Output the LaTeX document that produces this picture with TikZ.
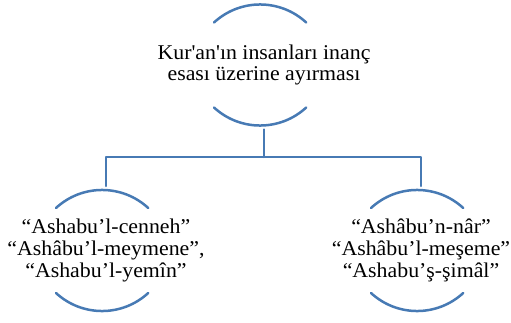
\documentclass[tikz,border=0pt]{standalone}
\usepackage{fontspec}
\setmainfont{Liberation Serif}[Ligatures=TeXOff,FakeStretch=1.04]
\usetikzlibrary{calc,positioning}
\definecolor{hline}{RGB}{71,122,180}

\begin{document}
\begin{tikzpicture}[x=1pt,y=1pt,line join=round,line cap=round,
  arcline/.style={draw=hline,line width=2.5pt},
  txt/.style={font=\fontsize{21}{21.7}\selectfont,align=center,inner sep=0pt}]
\useasboundingbox (0,0) rectangle (511,322);
\node[txt] (K) at (264,257) {Kur'an'ın insanları inanç\\esası üzerine ayırması};
\node[txt] (L) at (106,71.5) {“Ashabu’l-cenneh”\\“Ashâbu’l-meymene”,\\“Ashabu’l-yemîn”};
\node[txt] (R) at (421,71.5) {“Ashâbu’n-nâr”\\“Ashâbu’l-meşeme”\\“Ashabu’ş-şimâl”};
\foreach \i in {K,L,R}{
  \draw[arcline] ($(\i.center)+(-50,42.5)$) arc (132.7:47.3:68);
  \draw[arcline] ($(\i.center)+(-50,-42.5)$) arc (227.3:312.7:68);
  \coordinate (\i t) at ($(\i.center)+(0,64.5)$);
  \coordinate (\i b) at ($(\i.center)+(0,-64.5)$);}
\coordinate (bus) at ($(Kb)+(0,-27.5)$);
\draw[arcline] (Kb)--(bus) (bus)-|(Lt) (bus)-|(Rt);
\end{tikzpicture}
\end{document}
